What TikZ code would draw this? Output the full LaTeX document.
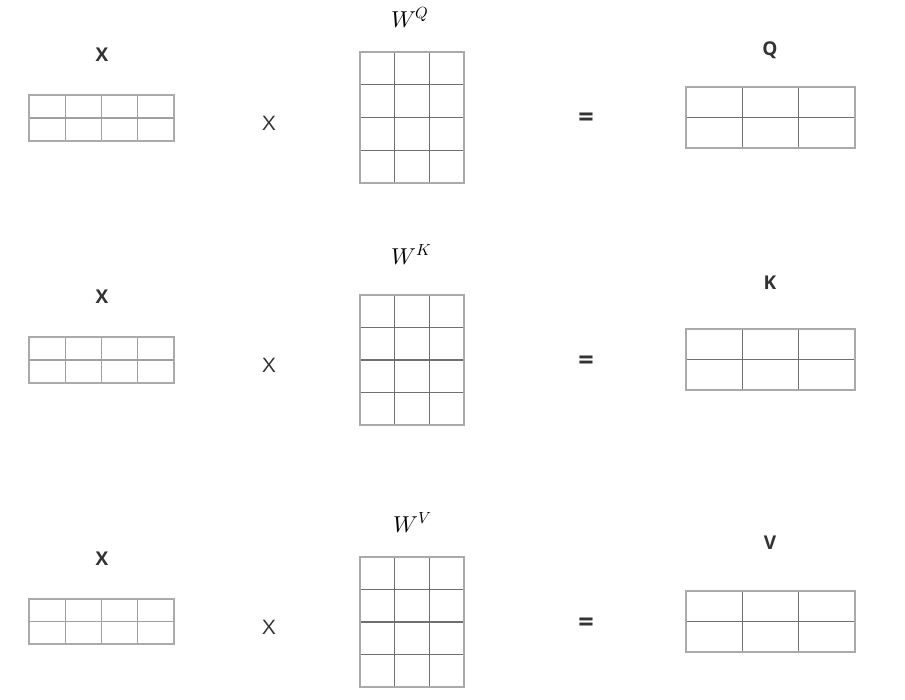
\documentclass[tikz,border=0pt]{standalone}
\usepackage{fontspec}
\setmainfont{Open Sans}
\usepackage{unicode-math}
\setmathfont{Latin Modern Math}
\definecolor{outerc}{HTML}{AAAAAA}
\definecolor{innerc}{HTML}{707070}
\definecolor{lightin}{HTML}{A0A0A0}
\definecolor{txt}{HTML}{333333}
\newcommand{\mgrid}[7]{%
  \pgfmathsetmacro\mgdx{(#3-#1)/(#5+1)}%
  \pgfmathsetmacro\mgdy{(#4-#2)/(#6+1)}%
  \foreach \i in {1,...,#5} {\draw[#7] ({#1+\i*\mgdx},#2) -- ({#1+\i*\mgdx},#4);}%
  \foreach \j in {1,...,#6} {\draw[#7] (#1,{#2+\j*\mgdy}) -- (#3,{#2+\j*\mgdy});}%
  \draw[outerline] (#1,#2) rectangle (#3,#4);%
}
\begin{document}
\begin{tikzpicture}[x=1pt,y=-1pt,
  outerline/.style={draw=outerc,line width=1.2pt},
  innerdark/.style={draw=innerc,line width=1.1pt},
  innerlight/.style={draw=lightin,line width=1.2pt},
  lbl/.style={font=\bfseries\fontsize{19}{21}\selectfont,text=txt,anchor=base,inner sep=0pt},
  opx/.style={font=\fontsize{20}{22}\selectfont,text=txt,anchor=base,inner sep=0pt,xscale=1.15},
  opeq/.style={font=\bfseries\fontsize{27}{29}\selectfont,text=txt,anchor=center,inner sep=0pt},
  wlbl/.style={font=\fontsize{23}{26}\selectfont,anchor=base,inner sep=0pt}]
\useasboundingbox[fill=white] (0,0) rectangle (905,699);
% Row 1
\mgrid{29}{95}{174}{141}{3}{1}{innerlight}
\node[lbl] (xl1) at (102,61) {X};
\node[opx] (op1) at (269,130) {X};
\mgrid{360}{52}{464}{183}{2}{3}{innerdark}
\node[wlbl] (w1) at (410,27) {$W^{Q}$};
\node[opeq] (eq1) at (586,120) {=};
\mgrid{686}{87}{855}{148}{2}{1}{innerdark}
\node[lbl] (ql) at (770,55) {Q};
% Row 2
\mgrid{29}{337}{174}{383}{3}{1}{innerlight}
\node[lbl] (xl2) at (102,303) {X};
\node[opx] (op2) at (269,372) {X};
\mgrid{360}{295}{464}{425}{2}{3}{innerdark}
\node[wlbl] (w2) at (412,264) {$W^{K}$};
\node[opeq] (eq2) at (586,362.5) {=};
\mgrid{686}{329}{855}{390}{2}{1}{innerdark}
\node[lbl] (kl) at (770,289) {K};
% Row 3
\mgrid{29}{599}{174}{644}{3}{1}{innerlight}
\node[lbl] (xl3) at (102,565) {X};
\node[opx] (op3) at (269,634) {X};
\mgrid{360}{557}{464}{687}{2}{3}{innerdark}
\node[wlbl] (w3) at (413,532) {$W^{V}$};
\node[opeq] (eq3) at (586,624.5) {=};
\mgrid{686}{591}{855}{652}{2}{1}{innerdark}
\node[lbl] (vl) at (770,549) {V};
\end{tikzpicture}
\end{document}
